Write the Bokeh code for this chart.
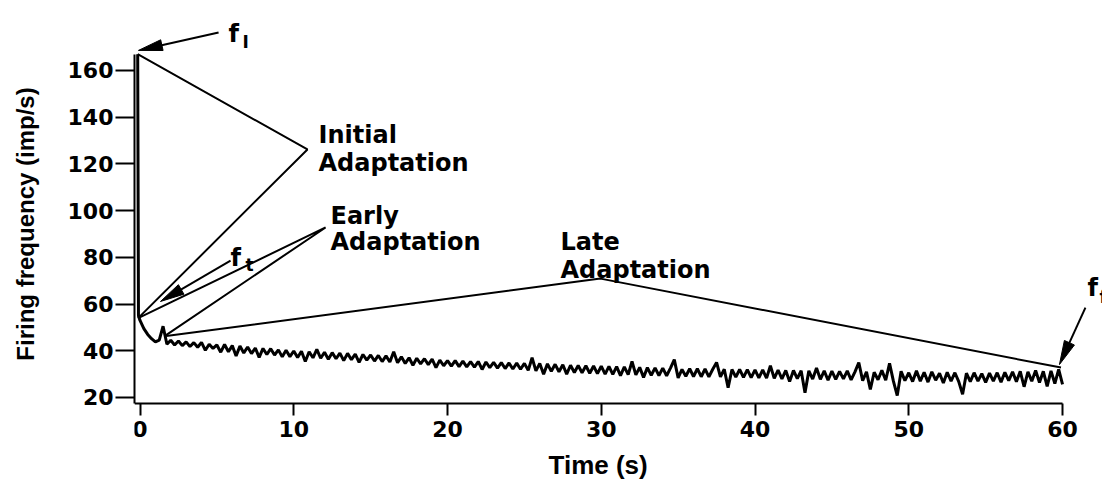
import math
from bokeh.plotting import figure
from bokeh.models import FixedTicker, Range1d, Title
from bokeh.core.properties import value
from bokeh.embed import file_html
from bokeh.resources import INLINE

# ---------------- data ----------------
onset_t = [-0.15, -0.1, 0.0]
onset_v = [167.0, 55.0, 53.0]
t_step = 0.25
rate_values = [
    49.5, 47.0, 45.2, 43.8, 44.6, 50.5, 42.8, 44.5, 42.5, 44.2, 42.2, 43.8, 41.8, 43.5, 41.5, 43.6, 40.2, 42.8, 41.0, 42.5,
    39.4, 42.7, 39.6, 42.2, 37.8, 42.0, 39.1, 41.6, 38.8, 41.2, 37.2, 41.0, 38.4, 40.9, 38.2, 40.4, 37.4, 40.2, 37.5, 39.9,
    37.1, 39.8, 35.4, 39.6, 37.0, 40.6, 36.8, 39.4, 36.4, 39.2, 36.6, 39.0, 35.8, 38.9, 36.2, 38.6, 35.0, 38.4, 36.0, 38.2,
    35.6, 38.0, 35.4, 37.8, 35.2, 39.6, 34.9, 37.4, 34.6, 37.0, 33.8, 36.8, 34.4, 36.6, 34.1, 36.4, 32.8, 36.0, 33.6, 35.8,
    33.4, 35.8, 33.2, 35.6, 33.1, 35.4, 33.0, 35.4, 32.0, 35.2, 32.8, 35.0, 32.6, 34.9, 32.4, 34.8, 32.2, 34.7, 32.1, 34.6,
    31.6, 37.0, 31.4, 34.6, 30.0, 34.4, 31.2, 34.2, 31.0, 34.0, 30.0, 33.8, 30.7, 33.7, 30.6, 33.6, 30.4, 33.5, 30.2, 33.4,
    30.0, 33.3, 29.9, 33.2, 29.4, 33.1, 29.8, 35.4, 29.7, 32.9, 28.6, 32.8, 29.5, 32.7, 29.4, 32.6, 29.3, 32.6, 36.2, 28.4,
    32.0, 29.1, 32.3, 29.0, 32.3, 28.9, 32.2, 28.8, 32.1, 35.0, 28.8, 32.1, 24.2, 32.0, 28.7, 32.0, 28.6, 31.9, 28.5, 31.8,
    28.4, 31.8, 28.3, 33.6, 28.2, 31.7, 28.0, 31.6, 26.8, 31.6, 28.1, 31.5, 22.0, 31.4, 27.9, 32.6, 27.8, 31.4, 27.4, 31.3,
    27.8, 31.2, 28.0, 31.4, 27.5, 31.0, 35.0, 27.2, 31.0, 23.5, 30.8, 27.6, 31.6, 27.4, 34.6, 27.0, 20.8, 31.2, 27.2, 30.6,
    26.8, 31.4, 27.0, 30.8, 26.6, 31.0, 27.4, 30.4, 26.2, 30.8, 27.0, 30.6, 26.8, 21.4, 30.4, 26.8, 30.6, 27.0, 30.2, 26.5,
    30.4, 27.0, 30.6, 26.6, 30.8, 27.2, 31.0, 26.8, 31.2, 24.6, 31.0, 27.0, 31.6, 26.4, 31.2, 24.8, 31.4, 26.0, 32.0, 25.6,
]
x_ticks = [0, 10, 20, 30, 40, 50, 60]
y_ticks = [20, 40, 60, 80, 100, 120, 140, 160]
x_title = "Time (s)"
y_title = "Firing frequency (imp/s)"

# annotation geometry (data coordinates)
initial_pts = [(-0.15, 167.0), (10.89, 126.2), (-0.12, 54.0)]
early_pts = [(-0.12, 54.0), (12.07, 92.8), (1.6, 46.3)]
late_pts = [(1.7, 46.3), (29.95, 70.9), (59.9, 32.8)]
arrow_fI = ((5.11, 176.3), (-0.1, 168.6))
arrow_ft = ((5.89, 78.6), (1.33, 61.1))
arrow_ff = ((61.49, 58.5), (59.8, 34.1))

# ---------------- figure ----------------
W, H = 1102, 479
BL, BB = 134, 32
X0, X1 = -0.358, 62.6
PX_X = (W - BL) / (X1 - X0)
PX_Y = 2.3357
X_AXIS_AT = 17.43                      # y value where the time axis sits
Y0 = X_AXIS_AT - (H - BB - 403) / PX_Y
Y1 = Y0 + (H - BB) / PX_Y

p = figure(width=W, height=H, x_range=Range1d(X0, X1), y_range=Range1d(Y0, Y1),
           min_border_left=BL, min_border_right=0, min_border_top=0, min_border_bottom=BB,
           output_backend="svg", toolbar_location=None)
p.outline_line_color = None
p.xgrid.visible = False
p.ygrid.visible = False
p.background_fill_color = "white"

t = list(onset_t) + [t_step * (i + 1) for i in range(len(rate_values))]
v = list(onset_v) + list(rate_values)
p.line(t, v, line_color="black", line_width=3)

for pts in (initial_pts, early_pts, late_pts):
    p.line([q[0] for q in pts], [q[1] for q in pts], line_color="black", line_width=2)


def arrow(tail, tip, length=24, half=5.5):
    dx = (tip[0] - tail[0]) * PX_X
    dy = (tip[1] - tail[1]) * PX_Y
    n = math.hypot(dx, dy)
    ux, uy = dx / n, dy / n
    bx, by = -ux * length, -uy * length
    nx, ny = -uy * half, ux * half
    base = (tip[0] + bx * 0.8 / PX_X, tip[1] + by * 0.8 / PX_Y)
    p.line([tail[0], base[0]], [tail[1], base[1]], line_color="black", line_width=2)
    xs = [tip[0], tip[0] + (bx + nx) / PX_X, tip[0] + (bx - nx) / PX_X]
    ys = [tip[1], tip[1] + (by + ny) / PX_Y, tip[1] + (by - ny) / PX_Y]
    p.patch(xs, ys, fill_color="black", line_color="black", line_width=1)


for a in (arrow_fI, arrow_ft, arrow_ff):
    arrow(*a)

FONT = value("DejaVu Sans")


def txt(x, y, s, size):
    p.text([x], [y], text=[s], text_font=FONT, text_font_style="bold",
           text_font_size=f"{size}px", text_align="left", text_baseline="alphabetic",
           text_color="black")


txt(11.61, 132.2, "Initial", 24)
txt(11.61, 120.2, "Adaptation", 24)
txt(12.39, 97.9, "Early", 24)
txt(12.39, 86.4, "Adaptation", 24)
txt(27.35, 86.4, "Late", 24)
txt(27.35, 74.8, "Adaptation", 24)
# f labels with subscripts
txt(5.76, 175.8, "f", 24)
txt(6.67, 172.0, "I", 17)
txt(5.89, 79.9, "f", 24)
txt(6.86, 76.9, "t", 17)
txt(61.63, 66.7, "f", 24)
txt(62.4, 63.2, "f", 17)

# axes
for ax in (p.xaxis, p.yaxis):
    ax.axis_line_width = 2
    ax.major_tick_line_width = 2
    ax.minor_tick_line_color = None
    ax.major_tick_in = 0
    ax.major_label_text_font = "DejaVu Sans"
    ax.major_label_text_font_style = "bold"
    ax.major_label_text_font_size = "22px"
    ax.major_label_text_color = "black"

p.xaxis.ticker = FixedTicker(ticks=x_ticks)
p.yaxis.ticker = FixedTicker(ticks=y_ticks)
p.xaxis.fixed_location = X_AXIS_AT
p.xaxis.bounds = (X0, 60)
p.yaxis.bounds = (X_AXIS_AT, 167)
p.xaxis.major_tick_out = 12
p.xaxis.major_label_standoff = 5
p.yaxis.major_tick_out = 19
p.yaxis.major_label_standoff = 2

p.yaxis.axis_label = y_title
p.yaxis.axis_label_text_font = "Liberation Sans"
p.yaxis.axis_label_text_font_style = "bold"
p.yaxis.axis_label_text_font_size = "24px"
p.yaxis.axis_label_text_color = "black"
p.yaxis.axis_label_standoff = 26

p.add_layout(Title(text=x_title, align="left", offset=414, standoff=0,
                   text_font="Liberation Sans", text_font_style="bold",
                   text_font_size="26px", text_color="black"), "below")

open("out.html", "w").write(file_html(p, INLINE))
